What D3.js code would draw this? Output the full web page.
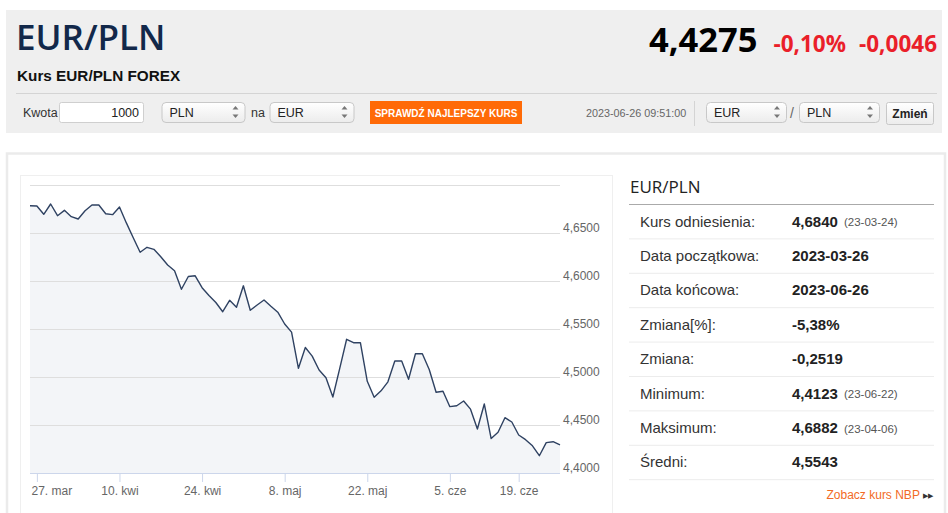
<!DOCTYPE html>
<html>
<head>
<meta charset="utf-8">
<script src="https://cdn.jsdelivr.net/npm/d3@7"></script>
<style>
  html, body { margin: 0; padding: 0; background: #fff; }
  svg { display: block; font-family: Arial, "Liberation Sans", sans-serif; }
</style>
</head>
<body>
<div id="chart"></div>
<script>
// EUR/PLN closing values, one per trading day (26 mar - 26 cze 2023)
const eurPln = [
  4.6784, 4.6781, 4.6695, 4.6802, 4.6680, 4.6736, 4.6670, 4.6646, 4.6732, 4.6792,
  4.6792, 4.6701, 4.6691, 4.6771, 4.6605, 4.6451, 4.6299, 4.6351, 4.6330, 4.6253,
  4.6167, 4.6107, 4.5914, 4.6047, 4.6054, 4.5930, 4.5849, 4.5776, 4.5680, 4.5799,
  4.5726, 4.5950, 4.5695, 4.5750, 4.5802, 4.5737, 4.5675, 4.5552, 4.5467, 4.5091,
  4.5307, 4.5217, 4.5073, 4.4993, 4.4792, 4.5089, 4.5393, 4.5357, 4.5357, 4.4955,
  4.4789, 4.4856, 4.4950, 4.5167, 4.5167, 4.4976, 4.5242, 4.5242, 4.5078, 4.4841,
  4.4852, 4.4691, 4.4701, 4.4750, 4.4665, 4.4458, 4.4719, 4.4359, 4.4424, 4.4576,
  4.4531, 4.4396, 4.4347, 4.4283, 4.4180, 4.4316, 4.4326, 4.4292
];
// x-axis ticks (position in the series) and their labels
const tickIdx = [1, 13, 25, 37, 49, 61, 71];
const tickLabels = ["27. mar", "10. kwi", "24. kwi", "8. maj", "22. maj", "5. cze", "19. cze"];
const gridTicks = [4.40, 4.45, 4.50, 4.55, 4.60, 4.65, 4.70];
const labelTicks = [4.40, 4.45, 4.50, 4.55, 4.60, 4.65];

// side table
const statLabels = ["Kurs odniesienia:", "Data początkowa:", "Data końcowa:", "Zmiana[%]:",
  "Zmiana:", "Minimum:", "Maksimum:", "Średni:"];
const statValues = ["4,6840", "2023-03-26", "2023-06-26", "-5,38%", "-0,2519", "4,4123", "4,6882", "4,5543"];
const statNotes = ["(23-03-24)", "", "", "", "", "(23-06-22)", "(23-04-06)", ""];

// header quote
const pairName = "EUR/PLN";
const lastRate = "4,4275";
const changePct = "-0,10%";
const changeAbs = "-0,0046";
const quoteTime = "2023-06-26 09:51:00";

const W = 948, H = 513;
const svg = d3.select("#chart").append("svg")
    .attr("width", W)
    .attr("height", H);

const defs = svg.append("defs");
const grad = defs.append("linearGradient").attr("id", "sel").attr("x1", 0).attr("x2", 0).attr("y1", 0).attr("y2", 1);
grad.append("stop").attr("offset", "0%").attr("stop-color", "#ffffff");
grad.append("stop").attr("offset", "100%").attr("stop-color", "#ececec");

// ---------- header ----------
svg.append("rect").attr("x", 6).attr("y", 10).attr("width", 936).attr("height", 123).attr("fill", "#efefef");

svg.append("text").attr("x", 16).attr("y", 50)
    .attr("font-family", "'Open Sans', sans-serif").attr("font-size", 35).attr("font-weight", 600)
    .attr("fill", "#12284a").text(pairName);

svg.append("text").attr("x", 17).attr("y", 81)
    .attr("font-size", 15.3).attr("font-weight", "bold").attr("fill", "#111")
    .text("Kurs EUR/PLN FOREX");

const quote = svg.append("text").attr("y", 52).attr("text-anchor", "end")
    .attr("x", 937).attr("font-family", "'Open Sans', sans-serif").attr("font-weight", "bold");
quote.append("tspan").attr("font-size", 34.5).attr("fill", "#000").text(lastRate);
quote.append("tspan").attr("dx", 16).attr("font-size", 22.5).attr("fill", "#ea1f2a").text(changePct);
quote.append("tspan").attr("dx", 13).attr("font-size", 22.5).attr("fill", "#ea1f2a").text(changeAbs);

svg.append("line").attr("x1", 16).attr("x2", 937).attr("y1", 93.5).attr("y2", 93.5)
    .attr("stroke", "#d4d4d4");

// controls row
svg.append("text").attr("x", 23).attr("y", 117).attr("font-size", 12.5).attr("fill", "#333").text("Kwota");
svg.append("rect").attr("x", 59.5).attr("y", 102.5).attr("width", 84).attr("height", 20).attr("rx", 2)
    .attr("fill", "#fff").attr("stroke", "#cfcfcf");
svg.append("text").attr("x", 139).attr("y", 117).attr("text-anchor", "end")
    .attr("font-size", 12.5).attr("fill", "#222").text("1000");

function select(x, w, label) {
  const g = svg.append("g");
  g.append("rect").attr("x", x + 0.5).attr("y", 102.5).attr("width", w).attr("height", 20).attr("rx", 4)
      .attr("fill", "url(#sel)").attr("stroke", "#c8c8c8");
  g.append("text").attr("x", x + 8).attr("y", 117).attr("font-size", 12.5).attr("fill", "#222").text(label);
  const ax = x + w - 9;
  g.append("path").attr("d", `M${ax - 3},109.5 L${ax + 3},109.5 L${ax},106 Z`).attr("fill", "#777");
  g.append("path").attr("d", `M${ax - 3},114.5 L${ax + 3},114.5 L${ax},118 Z`).attr("fill", "#777");
}
select(161.5, 83, "PLN");
svg.append("text").attr("x", 251).attr("y", 117).attr("font-size", 12.5).attr("fill", "#333").text("na");
select(269.5, 84, "EUR");

svg.append("rect").attr("x", 370).attr("y", 101).attr("width", 152).attr("height", 23).attr("fill", "#ff6a07");
svg.append("text").attr("x", 446).attr("y", 116.5).attr("text-anchor", "middle")
    .attr("font-size", 10).attr("font-weight", "bold").attr("fill", "#fff").text("SPRAWDŹ NAJLEPSZY KURS");

svg.append("text").attr("x", 586).attr("y", 117).attr("font-size", 10.8).attr("fill", "#666").text(quoteTime);
svg.append("line").attr("x1", 694.5).attr("x2", 694.5).attr("y1", 101).attr("y2", 126).attr("stroke", "#d4d4d4");

select(706, 80, "EUR");
svg.append("text").attr("x", 790).attr("y", 118).attr("font-size", 14).attr("fill", "#666").text("/");
select(799, 80, "PLN");

svg.append("rect").attr("x", 886.5).attr("y", 102.5).attr("width", 47).attr("height", 22).attr("rx", 2)
    .attr("fill", "url(#sel)").attr("stroke", "#c8c8c8");
svg.append("text").attr("x", 910).attr("y", 118).attr("text-anchor", "middle")
    .attr("font-size", 12).attr("font-weight", "bold").attr("fill", "#222").text("Zmień");

// ---------- main panel ----------
svg.append("rect").attr("x", 7).attr("y", 153.5).attr("width", 938).attr("height", 370)
    .attr("fill", "none").attr("stroke", "#ebebeb").attr("stroke-width", 2.5);
svg.append("rect").attr("x", 20.5).attr("y", 175.5).attr("width", 592).attr("height", 360)
    .attr("fill", "#fff").attr("stroke", "#efefef");

// chart scales
const x = d3.scaleLinear().domain([0, eurPln.length - 1]).range([30, 560]);
const y = d3.scaleLinear().domain([4.40, 4.70]).range([473, 185]);
const fmt = v => d3.format(".4f")(v).replace(".", ",");

const plot = svg.append("g");

// area under the line
plot.append("path")
    .datum(eurPln)
    .attr("fill", "#f3f5f8")
    .attr("d", d3.area().x((d, i) => x(i)).y0(y(4.40)).y1(d => y(d)));

// horizontal grid
plot.append("g")
    .attr("transform", "translate(560,0)")
    .call(d3.axisRight(y).tickValues(gridTicks).tickSize(-(560 - 30))
        .tickFormat(d => labelTicks.includes(d) ? fmt(d) : ""))
    .call(g => g.select(".domain").remove())
    .call(g => g.selectAll(".tick line").attr("stroke", "#dedede"))
    .call(g => g.selectAll(".tick text")
        .attr("x", 3).attr("dy", "-0.1em")
        .attr("font-family", "Arial, 'Liberation Sans', sans-serif")
        .attr("font-size", 12).attr("fill", "#666"));

// x axis
const xAxis = plot.append("g")
    .attr("transform", "translate(0,473)")
    .call(d3.axisBottom(x).tickValues(tickIdx).tickSize(9).tickPadding(4)
        .tickFormat((d, i) => tickLabels[i]));
xAxis.select(".domain").attr("stroke", "#ccd6eb").attr("d", "M30,0.5H560");
xAxis.selectAll(".tick line").attr("stroke", "#ccd6eb");
xAxis.selectAll(".tick text")
    .attr("font-family", "Arial, 'Liberation Sans', sans-serif")
    .attr("font-size", 12).attr("fill", "#666")
    .attr("text-anchor", (d, i) => i === 0 ? "start" : "middle")
    .attr("x", (d, i) => i === 0 ? x(0) - x(d) + 1 : 0);

// the line
plot.append("path")
    .datum(eurPln)
    .attr("fill", "none")
    .attr("stroke", "#2f4262")
    .attr("stroke-width", 1.4)
    .attr("stroke-linejoin", "round")
    .attr("d", d3.line().x((d, i) => x(i)).y(d => y(d)));

// ---------- side table ----------
svg.append("text").attr("x", 630).attr("y", 193)
    .attr("font-family", "'Open Sans', sans-serif").attr("font-size", 17).attr("fill", "#222").text(pairName);
svg.append("line").attr("x1", 629).attr("x2", 934).attr("y1", 204.5).attr("y2", 204.5).attr("stroke", "#aaa");

const rowH = 34.4, row0 = 204.5;
const rows = svg.append("g").selectAll("g")
    .data(statLabels)
    .join("g")
    .attr("transform", (d, i) => `translate(0,${row0 + i * rowH})`);
rows.append("line").attr("x1", 629).attr("x2", 934).attr("y1", rowH).attr("y2", rowH).attr("stroke", "#ececec");
rows.append("text").attr("x", 640).attr("y", rowH / 2 + 5)
    .attr("font-size", 15).attr("fill", "#333").text(d => d);
rows.append("text").attr("x", 792).attr("y", rowH / 2 + 5)
    .attr("font-size", 15).attr("font-weight", "bold").attr("fill", "#222").text((d, i) => statValues[i]);
rows.append("text").attr("x", 844).attr("y", rowH / 2 + 4.5)
    .attr("font-size", 11.5).attr("fill", "#555").text((d, i) => statNotes[i]);

const nbp = svg.append("text").attr("x", 933).attr("y", 499).attr("text-anchor", "end")
    .attr("font-size", 12).attr("fill", "#f26a25");
nbp.append("tspan").text("Zobacz kurs NBP ");
nbp.append("tspan").attr("fill", "#333").attr("font-size", 6.5).attr("dy", -1).text("▶▶");
</script>
</body>
</html>
